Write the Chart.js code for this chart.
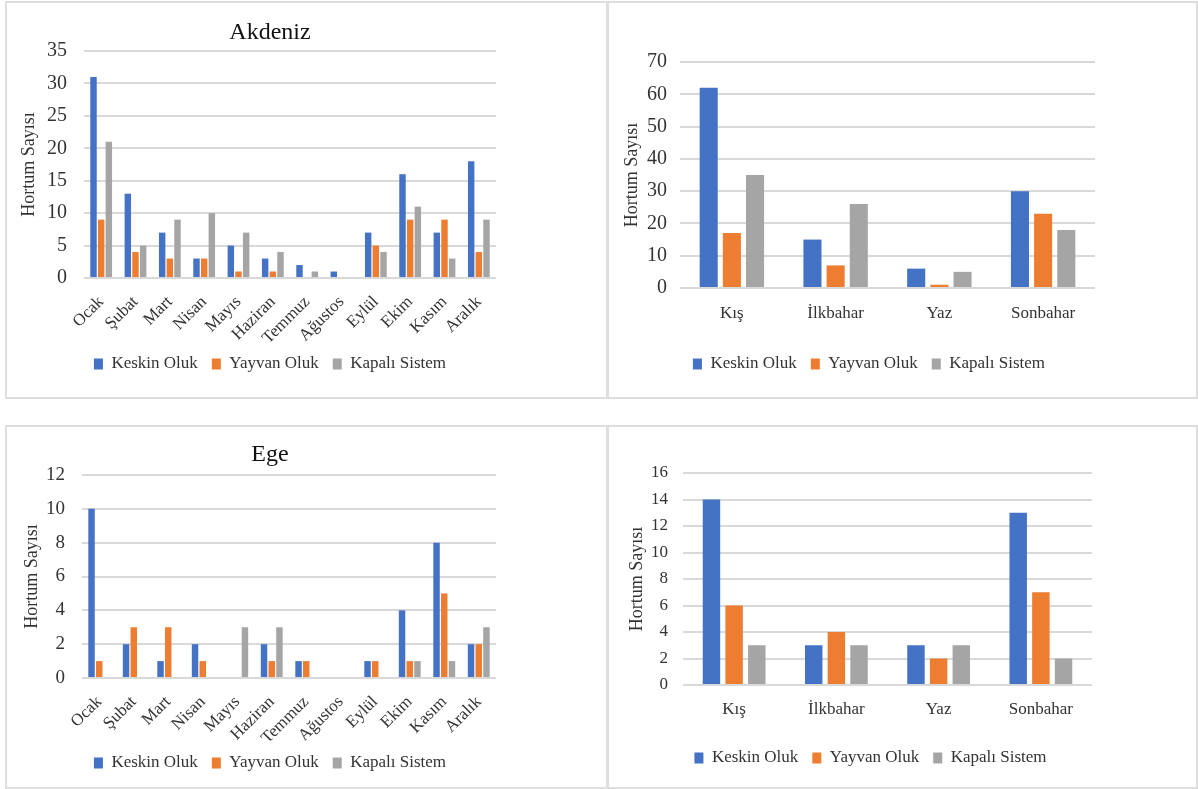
<!DOCTYPE html>
<html lang="tr">
<head>
<meta charset="utf-8">
<title>Hortum Sayısı – Akdeniz ve Ege</title>
<script src="https://cdn.jsdelivr.net/npm/chart.js@4.4.1/dist/chart.umd.min.js"></script>
<style>
  html, body { margin: 0; padding: 0; background: #ffffff; }
  body { width: 1198px; height: 789px; position: relative; overflow: hidden; }
  .panel { position: absolute; box-sizing: border-box; border: 2px solid #dedede; background: #fff; }
  .panel canvas { position: absolute; left: 0; top: 0; }
</style>
</head>
<body>
<div class="panel" style="left:5px;top:1px;width:603px;height:398px;"><canvas id="akdenizAylik" width="599" height="394"></canvas></div>
<div class="panel" style="left:607px;top:1px;width:591px;height:398px;"><canvas id="akdenizMevsim" width="587" height="394"></canvas></div>
<div class="panel" style="left:5px;top:425px;width:603px;height:364px;"><canvas id="egeAylik" width="599" height="360"></canvas></div>
<div class="panel" style="left:607px;top:425px;width:591px;height:364px;"><canvas id="egeMevsim" width="587" height="360"></canvas></div>
<script>
// Categories
const months = ['Ocak', 'Şubat', 'Mart', 'Nisan', 'Mayıs', 'Haziran', 'Temmuz', 'Ağustos', 'Eylül', 'Ekim', 'Kasım', 'Aralık'];
const seasons = ['Kış', 'İlkbahar', 'Yaz', 'Sonbahar'];
const seriesNames = ['Keskin Oluk', 'Yayvan Oluk', 'Kapalı Sistem'];
const axisTitle = 'Hortum Sayısı';

// Akdeniz – monthly counts
const akdenizKeskin = [31, 13, 7, 3, 5, 3, 2, 1, 7, 16, 7, 18];
const akdenizYayvan = [9, 4, 3, 3, 1, 1, 0, 0, 5, 9, 9, 4];
const akdenizKapali = [21, 5, 9, 10, 7, 4, 1, 0, 4, 11, 3, 9];

// Akdeniz – seasonal counts
const akdenizMevsimKeskin = [62, 15, 6, 30];
const akdenizMevsimYayvan = [17, 7, 1, 23];
const akdenizMevsimKapali = [35, 26, 5, 18];

// Ege – monthly counts
const egeKeskin = [10, 2, 1, 2, 0, 2, 1, 0, 1, 4, 8, 2];
const egeYayvan = [1, 3, 3, 1, 0, 1, 1, 0, 1, 1, 5, 2];
const egeKapali = [0, 0, 0, 0, 3, 3, 0, 0, 0, 1, 1, 3];

// Ege – seasonal counts
const egeMevsimKeskin = [14, 3, 3, 13];
const egeMevsimYayvan = [6, 4, 2, 7];
const egeMevsimKapali = [3, 3, 3, 2];

// Value axis ranges: [max, step]
const akdenizAylikAxis = [35, 5];
const akdenizMevsimAxis = [70, 10];
const egeAylikAxis = [12, 2];
const egeMevsimAxis = [16, 2];

const COLORS = ['#4472C4', '#ED7D31', '#A5A5A5'];
const SERIF = "'Liberation Serif', 'Times New Roman', serif";
const TEXT = '#333333';

function buildChart(id, labels, values, axis, lay) {
  const datasets = values.map((v, i) => ({
    label: seriesNames[i],
    data: v,
    backgroundColor: COLORS[i],
    borderWidth: 0,
    categoryPercentage: lay.catPct,
    barPercentage: lay.barPct
  }));
  return new Chart(document.getElementById(id), {
    type: 'bar',
    data: { labels: labels, datasets: datasets },
    options: {
      responsive: false,
      animation: false,
      devicePixelRatio: 1,
      layout: { padding: lay.padding },
      plugins: {
        tooltip: { enabled: false },
        title: lay.title ? {
          display: true,
          text: lay.title,
          color: '#111111',
          font: { family: SERIF, size: 24, weight: 'normal', lineHeight: 1.2 },
          padding: lay.titlePad
        } : { display: false },
        legend: {
          position: 'bottom',
          labels: {
            color: TEXT,
            font: { family: SERIF, size: 17 },
            boxWidth: 9,
            boxHeight: 11,
            padding: 14
          }
        }
      },
      scales: {
        x: {
          grid: { display: false },
          border: { display: false },
          ticks: {
            color: TEXT,
            font: { family: SERIF, size: 17 },
            autoSkip: false,
            minRotation: lay.rot,
            maxRotation: lay.rot,
            padding: lay.xPad
          },
          afterFit: (s) => { s.height = lay.xHeight; }
        },
        y: {
          min: 0,
          max: axis[0],
          grid: { color: '#d9d9d9', lineWidth: 2, drawTicks: false },
          border: { display: false },
          ticks: {
            stepSize: axis[1],
            color: TEXT,
            font: { family: SERIF, size: lay.tickSize },
            padding: lay.yPad
          },
          title: {
            display: true,
            text: axisTitle,
            color: TEXT,
            font: { family: SERIF, size: 18, lineHeight: 1.2 },
            padding: { top: lay.yTitlePad, bottom: 0 }
          },
          afterFit: (s) => { s.width = lay.yWidth; }
        }
      }
    }
  });
}

buildChart('akdenizAylik', months, [akdenizKeskin, akdenizYayvan, akdenizKapali], akdenizAylikAxis, {
  title: 'Akdeniz', titlePad: { top: 15.6, bottom: 3.6 },
  padding: { left: 37, right: 110, top: 0, bottom: 14.5 },
  yWidth: 40, yPad: 17, yTitlePad: -25.8, tickSize: 20,
  xHeight: 63.5, xPad: 6, rot: 45,
  catPct: 0.67, barPct: 0.84
});

buildChart('akdenizMevsim', seasons, [akdenizMevsimKeskin, akdenizMevsimYayvan, akdenizMevsimKapali], akdenizMevsimAxis, {
  title: null,
  padding: { left: 34, right: 101, top: 59, bottom: 14.5 },
  yWidth: 37, yPad: 13, yTitlePad: -21.8, tickSize: 20,
  xHeight: 53.5, xPad: 7, rot: 0,
  catPct: 0.67, barPct: 0.78
});

buildChart('egeAylik', months, [egeKeskin, egeYayvan, egeKapali], egeAylikAxis, {
  title: 'Ege', titlePad: { top: 13.6, bottom: 5.6 },
  padding: { left: 37, right: 110, top: 0, bottom: 5.5 },
  yWidth: 38, yPad: 17, yTitlePad: -22.8, tickSize: 19,
  xHeight: 62.5, xPad: 6, rot: 45,
  catPct: 0.67, barPct: 0.84
});

buildChart('egeMevsim', seasons, [egeMevsimKeskin, egeMevsimYayvan, egeMevsimKapali], egeMevsimAxis, {
  title: null,
  padding: { left: 40, right: 104, top: 46, bottom: 10.5 },
  yWidth: 34, yPad: 15, yTitlePad: -22.8, tickSize: 17,
  xHeight: 50.5, xPad: 6, rot: 0,
  catPct: 0.665, barPct: 0.77
});
</script>
</body>
</html>
